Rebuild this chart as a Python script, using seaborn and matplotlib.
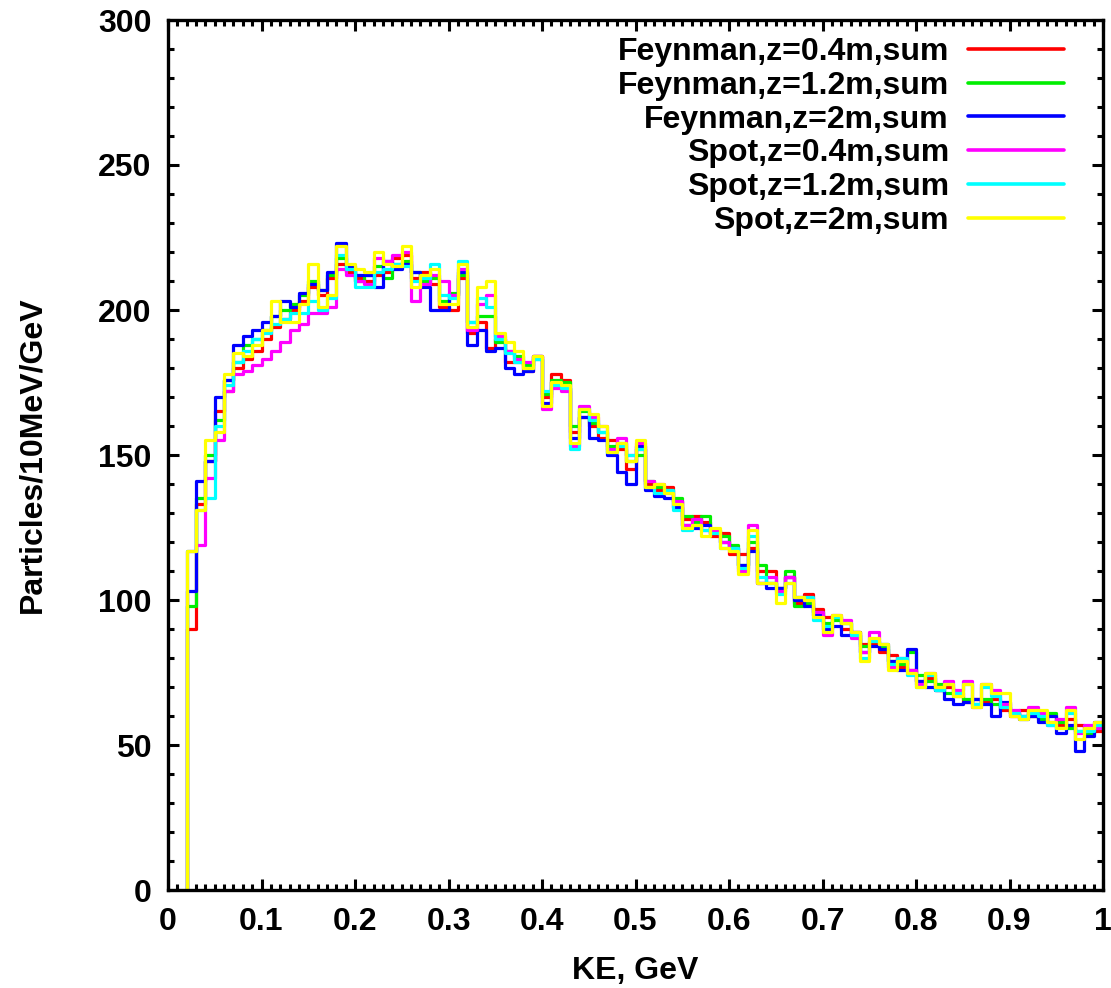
import numpy as np
import pandas as pd
import matplotlib
matplotlib.use("Agg")
import matplotlib.pyplot as plt
import seaborn as sns

# ---- data -------------------------------------------------------------
bin_start = 0.02
bin_width = 0.01
x_max = 1.0

series_names = [
    "Feynman,z=0.4m,sum",
    "Feynman,z=1.2m,sum",
    "Feynman,z=2m,sum",
    "Spot,z=0.4m,sum",
    "Spot,z=1.2m,sum",
    "Spot,z=2m,sum",
]
series_colors = ["#ff0000", "#00ee00", "#0000ff", "#ff00ff", "#00ffff", "#ffff00"]

feynman_04 = [90, 133, 148, 165, 172, 180, 183, 186, 190, 194, 197, 200, 203, 208, 205, 211, 216, 213, 211, 210,
              212, 213, 218, 219, 211, 213, 209, 201, 200, 211, 192, 196, 187, 190, 182, 182, 179, 184, 170, 178,
              176, 158, 163, 160, 156, 155, 152, 145, 152, 140, 138, 139, 134, 128, 129, 127, 122, 123, 116, 116,
              118, 110, 110, 104, 108, 99, 102, 97, 94, 94, 90, 89, 85, 85, 82, 81, 77, 76, 72, 73,
              69, 70, 68, 65, 66, 65, 66, 62, 60, 62, 60, 60, 58, 57, 59, 57, 56, 55]
feynman_12 = [98, 135, 150, 162, 176, 182, 188, 190, 193, 198, 200, 202, 205, 210, 207, 212, 218, 214, 210, 212,
              215, 211, 216, 217, 213, 210, 211, 203, 206, 212, 196, 198, 198, 189, 186, 184, 181, 183, 171, 176,
              175, 160, 165, 161, 158, 153, 154, 148, 150, 141, 139, 138, 135, 129, 127, 129, 124, 122, 119, 112,
              120, 112, 106, 104, 110, 98, 99, 96, 92, 93, 92, 88, 84, 86, 84, 79, 78, 82, 74, 72,
              71, 68, 67, 66, 64, 66, 64, 63, 61, 60, 62, 59, 61, 58, 56, 55, 54, 57]
feynman_2 = [103, 141, 148, 170, 176, 188, 191, 193, 196, 198, 203, 201, 206, 209, 207, 213, 223, 215, 212, 212,
             208, 217, 214, 216, 213, 208, 200, 200, 205, 213, 188, 193, 186, 187, 180, 178, 179, 184, 168, 175,
             173, 156, 163, 156, 155, 150, 144, 140, 153, 138, 136, 135, 132, 126, 125, 126, 123, 120, 118, 112,
             117, 106, 104, 104, 108, 100, 98, 95, 90, 91, 88, 89, 82, 84, 83, 79, 76, 83, 72, 70,
             69, 66, 64, 65, 66, 64, 60, 65, 61, 59, 60, 58, 60, 54, 57, 48, 53, 58]
spot_04 = [117, 119, 142, 155, 172, 178, 179, 181, 183, 186, 189, 193, 195, 199, 199, 201, 214, 212, 210, 209,
           218, 217, 219, 220, 203, 209, 212, 210, 205, 214, 193, 202, 205, 191, 186, 183, 182, 184, 166, 173,
           172, 153, 167, 163, 160, 152, 156, 150, 154, 141, 140, 137, 134, 126, 128, 124, 124, 120, 118, 110,
           126, 106, 108, 103, 108, 101, 100, 96, 88, 95, 93, 87, 82, 89, 85, 77, 80, 76, 71, 75,
           70, 72, 69, 72, 63, 71, 69, 64, 62, 60, 63, 61, 57, 59, 63, 54, 57, 56]
spot_12 = [117, 131, 135, 160, 174, 182, 186, 190, 192, 195, 197, 199, 199, 203, 200, 204, 219, 214, 208, 208,
           213, 214, 216, 215, 210, 211, 216, 205, 204, 217, 196, 204, 201, 190, 185, 182, 180, 183, 172, 174,
           173, 152, 166, 162, 158, 151, 153, 150, 152, 139, 137, 138, 131, 124, 126, 124, 123, 118, 118, 111,
           122, 108, 106, 102, 106, 101, 101, 93, 91, 94, 92, 88, 80, 86, 85, 78, 80, 74, 70, 74,
           69, 71, 68, 71, 64, 70, 67, 63, 61, 60, 61, 60, 57, 56, 61, 55, 55, 57]
spot_2 = [117, 131, 155, 158, 178, 185, 184, 188, 193, 203, 196, 196, 202, 216, 201, 205, 222, 216, 214, 213,
          220, 216, 215, 222, 208, 212, 214, 202, 202, 216, 194, 208, 210, 192, 189, 186, 180, 184, 167, 175,
          174, 154, 166, 164, 160, 151, 154, 148, 155, 139, 140, 137, 133, 125, 126, 122, 125, 118, 117, 109,
          124, 106, 106, 99, 106, 101, 100, 94, 89, 95, 92, 89, 79, 87, 85, 76, 79, 75, 70, 75,
          70, 71, 67, 71, 63, 71, 68, 68, 60, 59, 62, 62, 58, 56, 62, 52, 56, 58]

all_series = [feynman_04, feynman_12, feynman_2, spot_04, spot_12, spot_2]

x_ticks = [0, 0.1, 0.2, 0.3, 0.4, 0.5, 0.6, 0.7, 0.8, 0.9, 1]
x_tick_labels = ["0", "0.1", "0.2", "0.3", "0.4", "0.5", "0.6", "0.7", "0.8", "0.9", "1"]
y_ticks = [0, 50, 100, 150, 200, 250, 300]

# ---- build long table (histogram steps) --------------------------------
rows = []
for name, vals in zip(series_names, all_series):
    n = len(vals)
    edges = np.round(bin_start + bin_width * np.arange(n + 1), 4)
    xs = [edges[0]] + list(edges[:-1]) + [edges[-1]]
    ys = [0] + list(vals) + [vals[-1]]
    for i, (xv, yv) in enumerate(zip(xs, ys)):
        rows.append({"KE": xv, "count": yv, "series": name, "order": i})
df = pd.DataFrame(rows)

# ---- plot -------------------------------------------------------------
sns.set_theme(style="ticks")
plt.rcParams["font.family"] = ["Liberation Sans", "DejaVu Sans"]
plt.rcParams["font.weight"] = "bold"
plt.rcParams["text.color"] = "black"
plt.rcParams["axes.labelcolor"] = "black"
plt.rcParams["xtick.color"] = "black"
plt.rcParams["ytick.color"] = "black"

fig = plt.figure(figsize=(11.11, 9.88), dpi=100)
ax = fig.add_axes([168 / 1111, 1 - 890 / 988, (1103 - 168) / 1111, (890 - 20) / 988])

sns.lineplot(data=df, x="KE", y="count", hue="series", hue_order=series_names,
             palette=dict(zip(series_names, series_colors)), estimator=None,
             sort=False, units="series", drawstyle="steps-post", linewidth=2.3,
             ax=ax, legend=True)

ax.set_xlim(0, x_max)
ax.set_ylim(0, 300)
ax.set_xticks(x_ticks)
ax.set_xticklabels(x_tick_labels)
ax.set_yticks(y_ticks)
ax.set_xticks(np.round(np.arange(0, 1.001, 0.01), 3), minor=True)
ax.set_yticks(np.arange(0, 301, 10), minor=True)

for s in ax.spines.values():
    s.set_linewidth(2.4)
    s.set_color("black")
    s.set_visible(True)

ax.tick_params(which="both", direction="in", top=True, right=True, width=2.2,
               color="black", labelcolor="black")
ax.tick_params(which="major", length=8, labelsize=23, pad=12)
ax.tick_params(which="minor", length=4)
for lab in ax.get_xticklabels() + ax.get_yticklabels():
    lab.set_fontweight("bold")

ax.set_xlabel("KE, GeV", fontsize=23, fontweight="bold", labelpad=14, color="black")
ax.set_ylabel("Particles/10MeV/GeV", fontsize=23, fontweight="bold", labelpad=36, color="black")

handles, labels = ax.get_legend_handles_labels()
leg = ax.legend(handles, labels, loc="upper right",
                bbox_to_anchor=(1064 / 1111, 1 - 37 / 988), bbox_transform=fig.transFigure,
                frameon=False, markerfirst=False, handlelength=3.0, handletextpad=0.6,
                labelspacing=0.12, borderpad=0, borderaxespad=0,
                prop={"size": 23, "weight": "bold"})
for t in leg.get_texts():
    t.set_color("black")
for line in leg.get_lines():
    line.set_linewidth(2.6)

fig.savefig("out.png", dpi=100, facecolor="white")
